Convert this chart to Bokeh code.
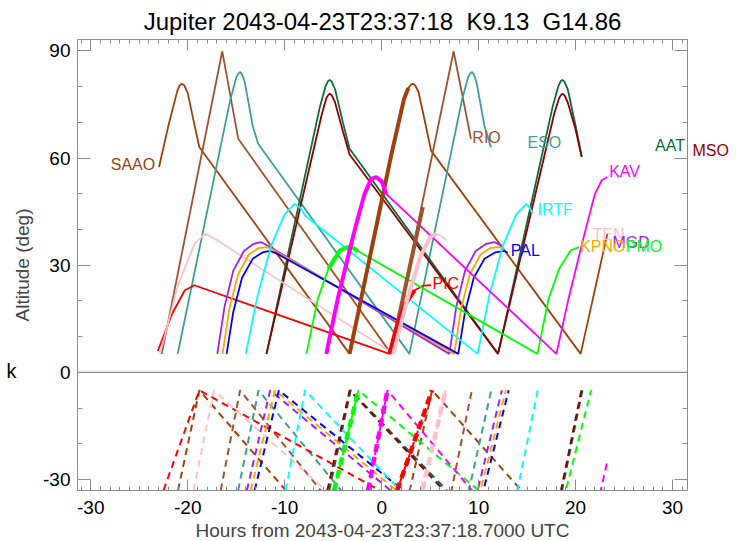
from bokeh.plotting import figure
from bokeh.models import Range1d, LinearAxis, FixedTicker, Span, LabelSet, ColumnDataSource
from bokeh.core.properties import value
from bokeh.embed import file_html
from bokeh.resources import INLINE

FONT = "Liberation Sans"
AXC = "#8c8c8c"

TITLE = "Jupiter 2043-04-23T23:37:18 \u00a0K9.13 \u00a0G14.86"
XLABEL = "Hours from 2043-04-23T23:37:18.7000 UTC"
YLABEL = "Altitude (deg)"
SIDE_MARK = "k"

X_TICKS = [-30, -20, -10, 0, 10, 20, 30]
Y_TICKS = [-30, 0, 30, 60, 90]

STATIONS = ["SAAO", "RIO", "ESO", "AAT", "MSO", "PIC", "TEN", "MGD", "KPNO", "PAL", "IRTF", "PMO", "KAV"]
COLORS = ["#A0400C", "#A0522D", "#3AA096", "#0B6B3A", "#8B0000", "#FF0000", "#FFC0CB",
          "#A020F0", "#FFA500", "#0000FF", "#00FFFF", "#00FF00", "#FF00FF"]

# label positions (hours, altitude); MSO sits outside the frame (drawn on a side axis)
LABEL_X = [-27.94, 9.35, 15.04, 28.2, 5.24, 21.74, 23.8, 20.46, 13.32, 16.07, 25.18, 23.46]
LABEL_Y = [56.8, 64.2, 62.9, 61.9, 23.4, 37.0, 34.8, 33.7, 32.5, 44.0, 33.7, 54.7]
LABEL_NAMES = ["SAAO", "RIO", "ESO", "AAT", "PIC", "TEN", "MGD", "KPNO", "PAL", "IRTF", "PMO", "KAV"]
MSO_LABEL_Y = 62

# ---- object altitude tracks (upper panel) ----
SAAO_T = [-22.96, -22.0, -21.1, -20.85, -20.62, -20.35, -20.0, -19.4, -18.81, -3.31, 1.0, 2.3, 2.75, 3.0, 3.21, 3.45, 3.8, 4.4, 5.09, 20.52, 23.27]
SAAO_A = [57.5, 69.0, 78.6, 80.3, 80.8, 80.3, 78.2, 70.5, 63.1, 5.2, 61.0, 76.5, 79.6, 80.5, 80.8, 80.4, 78.5, 71.0, 62.1, 5.2, 38.8]
SAAO_TK_T = [-3.31, 1.0, 2.3, 2.75]
SAAO_TK_A = [5.2, 61.0, 76.5, 79.6]

RIO_T = [-22.68, -16.44, -14.79, 0.98, 7.42, 9.21]
RIO_A = [5.2, 89.9, 65.4, 5.2, 89.9, 65.4]
RIO_TK_T = [1.6, 4.24]
RIO_TK_A = [13.4, 46.3]

ESO_T = [-21.04, -15.6, -15.0, -14.8, -14.62, -14.4, -14.1, -13.3, -12.74, 2.86, 8.3, 8.9, 9.1, 9.28, 9.5, 9.8, 10.6, 11.27]
ESO_A = [5.2, 76.5, 82.5, 83.6, 84.1, 83.5, 81.0, 69.0, 64.0, 5.2, 76.5, 82.5, 83.6, 84.1, 83.5, 81.0, 69.0, 63.0]

AAT_T = [-11.88, -6.4, -5.8, -5.55, -5.36, -5.15, -4.8, -4.0, -3.31, 12.0, 17.6, 18.2, 18.45, 18.64, 18.85, 19.2, 20.0, 20.63]
AAT_A = [5.2, 74.0, 80.0, 81.5, 81.9, 81.4, 79.2, 70.0, 62.6, 5.2, 74.0, 80.0, 81.5, 81.9, 81.4, 79.2, 69.0, 60.3]

MSO_T = [-11.88, -6.2, -5.7, -5.5, -5.36, -5.15, -4.8, -4.0, -3.31, 12.0, 17.8, 18.3, 18.5, 18.64, 18.85, 19.2, 20.0, 20.63]
MSO_A = [5.2, 72.0, 76.8, 77.7, 78.0, 77.6, 75.5, 67.5, 61.0, 5.2, 72.5, 76.8, 77.7, 78.0, 77.6, 75.5, 68.0, 60.3]

PIC_T = [-23.09, -21.6, -20.3, -19.32, 0.81, 1.5, 2.4, 3.4, 4.3, 5.09]
PIC_A = [6.0, 16.5, 23.0, 24.4, 5.2, 12.5, 19.0, 23.0, 24.3, 24.4]
PIC_TK_T = [0.81, 1.5, 2.4, 3.4]
PIC_TK_A = [5.2, 12.5, 19.0, 23.0]

TEN_T = [-22.85, -21.0, -19.3, -18.22, -17.2, 1.2, 2.6, 4.0, 5.0, 5.61, 6.1, 6.64]
TEN_A = [5.2, 24.5, 36.0, 38.8, 37.4, 5.2, 20.0, 32.5, 37.8, 38.8, 38.3, 37.0]
TEN_TK_T = [1.2, 2.6, 4.0, 5.0, 5.61]
TEN_TK_A = [5.2, 20.0, 32.5, 37.8, 38.8]

MGD_T = [-16.95, -16.2, -15.3, -14.2, -13.2, -12.46, -11.43, 6.98, 7.7, 8.6, 9.7, 10.8, 11.61, 12.5]
MGD_A = [5.2, 18.5, 28.5, 34.0, 36.0, 36.5, 35.0, 5.2, 18.5, 28.5, 34.0, 36.0, 36.5, 35.3]

KPNO_T = [-16.41, -15.7, -14.8, -13.7, -12.7, -11.88, -11.2, 7.49, 8.2, 9.1, 10.2, 11.2, 12.12, 12.6]
KPNO_A = [5.2, 18.0, 27.5, 33.0, 34.8, 35.1, 34.3, 5.2, 18.0, 27.5, 33.0, 34.8, 35.1, 34.5]

PAL_T = [-15.99, -15.3, -14.4, -13.3, -12.3, -11.53, -10.9, 7.9, 8.6, 9.5, 10.6, 11.7, 12.64, 13.0]
PAL_A = [5.2, 17.0, 26.5, 31.8, 33.6, 34.0, 33.4, 5.2, 17.0, 26.5, 31.8, 33.6, 34.0, 33.5]

IRTF_T = [-14.01, -12.8, -11.4, -10.0, -8.96, -8.3, -7.93, 9.89, 11.1, 12.5, 13.9, 14.93, 15.3, 15.55]
IRTF_A = [5.2, 21.5, 35.5, 44.3, 47.2, 45.8, 44.0, 5.2, 21.5, 35.5, 44.3, 47.2, 46.0, 44.5]

PMO_T = [-7.76, -6.6, -5.5, -4.3, -3.48, -2.9, -2.45, 16.07, 17.2, 18.3, 19.5, 20.35]
PMO_A = [5.2, 20.5, 29.0, 34.2, 35.1, 34.8, 34.0, 5.2, 20.5, 29.0, 34.2, 35.1]
PMO_TK_T = [-5.5, -4.3, -3.48, -2.9, -2.45]
PMO_TK_A = [29.0, 34.2, 35.1, 34.8, 34.0]

KAV_T = [-5.71, -4.5, -2.8, -1.76, -1.08, -0.56, 0.0, 0.47, 18.02, 19.3, 21.0, 22.0, 22.7, 23.27]
KAV_A = [5.2, 21.0, 39.7, 50.0, 54.2, 54.7, 53.5, 50.0, 5.2, 21.0, 39.7, 50.0, 53.8, 54.7]
KAV_TK_T = [-5.71, -4.5, -2.8, -1.76, -1.08, -0.56, 0.0, 0.47]
KAV_TK_A = [5.2, 21.0, 39.7, 50.0, 54.2, 54.7, 53.5, 50.0]

# ---- dashed tracks (lower panel) ----
SAAO_LT = [-21.0, -18.8, -9.9, -3.5, 2.9, 5.2, 14.4]
SAAO_LA = [-33, -5, -33, -45, -33, -5, -33]
RIO_LT = [-16.6, -14.6, -6.3, 0.5, 7.2, 9.3]
RIO_LA = [-33, -5, -33, -45, -33, -5]
ESO_LT = [-14.8, -12.7, -4.2, 2.4, 9.0, 11.3]
ESO_LA = [-33, -5, -33, -45, -33, -5]
AAT_LT = [-5.4, -3.2, 6.7, 12.6, 18.6, 20.7]
AAT_LA = [-33, -5, -33, -45, -33, -5]
MSO_LT = [-5.6, -3.3, 6.4, 12.4, 18.5, 20.6]
MSO_LA = [-33, -5, -33, -45, -33, -5]
PIC_LT = [-22.5, -18.8, -0.2, 0.7, 1.6, 5.2]
PIC_LA = [-33, -5, -33, -45, -33, -5]
PIC_LTK_T = [1.6, 5.2]
PIC_LTK_A = [-33, -5]
TEN_LT = [-19.4, -17.3, -5.8, -0.8, 4.2, 6.6]
TEN_LA = [-33, -5, -33, -45, -33, -5]
TEN_LTK_T = [4.2, 6.6]
TEN_LTK_A = [-33, -5]
MGD_LT = [-13.9, -11.5, 0.9, 5.4, 9.9, 12.4]
MGD_LA = [-33, -5, -33, -45, -33, -5]
KPNO_LT = [-13.5, -11.0, 1.5, 5.9, 10.2, 12.8]
KPNO_LA = [-33, -5, -33, -45, -33, -5]
PAL_LT = [-13.1, -10.6, 2.2, 6.4, 10.5, 13.1]
PAL_LA = [-33, -5, -33, -45, -33, -5]
IRTF_LT = [-9.9, -7.9, 1.9, 8.0, 14.0, 16.1]
IRTF_LA = [-33, -5, -33, -45, -33, -5]
PMO_LT = [-4.9, -2.4, 10.0, 14.5, 19.0, 21.6]
PMO_LA = [-33, -5, -33, -45, -33, -5]
PMO_LTK_T = [-4.9, -2.4]
PMO_LTK_A = [-33, -5]
KAV_LT = [-1.4, 0.6, 9.3, 16.0, 22.6, 23.3]
KAV_LA = [-33, -5, -33, -45, -33, -24.5]
KAV_LTK_T = [-1.4, 0.6]
KAV_LTK_A = [-33, -5]

UPPER = {"SAAO": (SAAO_T, SAAO_A), "RIO": (RIO_T, RIO_A), "ESO": (ESO_T, ESO_A),
         "AAT": (AAT_T, AAT_A), "MSO": (MSO_T, MSO_A), "PIC": (PIC_T, PIC_A),
         "TEN": (TEN_T, TEN_A), "MGD": (MGD_T, MGD_A), "KPNO": (KPNO_T, KPNO_A),
         "PAL": (PAL_T, PAL_A), "IRTF": (IRTF_T, IRTF_A), "PMO": (PMO_T, PMO_A),
         "KAV": (KAV_T, KAV_A)}
UPPER_THICK = {"SAAO": (SAAO_TK_T, SAAO_TK_A), "RIO": (RIO_TK_T, RIO_TK_A),
               "PIC": (PIC_TK_T, PIC_TK_A), "TEN": (TEN_TK_T, TEN_TK_A),
               "PMO": (PMO_TK_T, PMO_TK_A), "KAV": (KAV_TK_T, KAV_TK_A)}
LOWER = {"SAAO": (SAAO_LT, SAAO_LA), "RIO": (RIO_LT, RIO_LA), "ESO": (ESO_LT, ESO_LA),
         "AAT": (AAT_LT, AAT_LA), "MSO": (MSO_LT, MSO_LA), "PIC": (PIC_LT, PIC_LA),
         "TEN": (TEN_LT, TEN_LA), "MGD": (MGD_LT, MGD_LA), "KPNO": (KPNO_LT, KPNO_LA),
         "PAL": (PAL_LT, PAL_LA), "IRTF": (IRTF_LT, IRTF_LA), "PMO": (PMO_LT, PMO_LA),
         "KAV": (KAV_LT, KAV_LA)}
LOWER_THICK = {"PIC": (PIC_LTK_T, PIC_LTK_A), "TEN": (TEN_LTK_T, TEN_LTK_A),
               "PMO": (PMO_LTK_T, PMO_LTK_A), "KAV": (KAV_LTK_T, KAV_LTK_A)}

color_of = dict(zip(STATIONS, COLORS))

p = figure(frame_width=610, frame_height=451,
           x_range=Range1d(-31.37, 31.54), y_range=Range1d(-33.05, 93.2),
           output_backend="svg", toolbar_location=None,
           min_border_left=77, min_border_right=49, min_border_top=39, min_border_bottom=44,
           x_axis_label=XLABEL, y_axis_label=YLABEL)
p.xgrid.visible = False
p.ygrid.visible = False
p.outline_line_color = AXC
p.background_fill_color = "white"
p.border_fill_color = "white"

p.title.text = TITLE
p.title.align = "center"
p.title.text_font = FONT
p.title.text_font_size = "24px"
p.title.text_font_style = "normal"
p.title.text_color = "black"
p.title.standoff = 10

def hyphen_labels(ticks):
    # plain ASCII hyphen for negative tick labels, as in the original
    return {t: str(t) for t in ticks if t < 0}

def style(ax, ticker, ticks, tin, tmin, labels=True):
    ax.ticker = ticker
    ax.axis_line_color = AXC
    ax.major_tick_line_color = AXC
    ax.minor_tick_line_color = AXC
    ax.major_tick_in = tin
    ax.major_tick_out = 0
    ax.minor_tick_in = tmin
    ax.minor_tick_out = 0
    ax.major_label_text_font = FONT
    if labels:
        ax.major_label_text_font_size = "19px"
        ax.major_label_text_color = "black"
        ax.major_label_overrides = hyphen_labels(ticks)
    else:
        ax.major_label_text_font_size = "1px"
        ax.major_label_text_alpha = 0
        ax.major_label_standoff = 0

def xticker():
    return FixedTicker(ticks=X_TICKS, minor_ticks=list(range(-31, 32)))

def yticker():
    return FixedTicker(ticks=Y_TICKS, minor_ticks=list(range(-30, 91, 10)))

for ax in p.xaxis:
    style(ax, xticker(), X_TICKS, 11, 4)
    ax.major_label_standoff = 10
    ax.axis_label_standoff = 3
    ax.axis_label_text_font = FONT
    ax.axis_label_text_font_size = "19px"
    ax.axis_label_text_font_style = "normal"
for ax in p.yaxis:
    style(ax, yticker(), Y_TICKS, 13, 5)
    ax.major_label_standoff = 7
    ax.axis_label_standoff = 7
    ax.axis_label_text_font = FONT
    ax.axis_label_text_font_size = "19px"
    ax.axis_label_text_font_style = "normal"

ra = LinearAxis()
style(ra, yticker(), Y_TICKS, 13, 5, labels=False)
p.add_layout(ra, "right")
ta = LinearAxis()
style(ta, xticker(), X_TICKS, 11, 4, labels=False)
p.add_layout(ta, "above")

# outside-frame texts carried by bare side axes
def bare_axis(tick, text, font, size, color, standoff):
    ax = LinearAxis(ticker=FixedTicker(ticks=[tick], minor_ticks=[]),
                    major_label_overrides={tick: text})
    ax.axis_line_color = None
    ax.major_tick_line_color = None
    ax.minor_tick_line_color = None
    ax.major_tick_in = 0
    ax.major_tick_out = 0
    ax.major_label_text_font = font
    ax.major_label_text_font_size = size
    ax.major_label_text_color = color
    ax.major_label_standoff = standoff
    return ax

p.add_layout(bare_axis(0, SIDE_MARK, "Liberation Mono", "20px", "black", -8), "left")
p.add_layout(bare_axis(MSO_LABEL_Y, "MSO", FONT, "16px", color_of["MSO"], 5), "right")

p.add_layout(Span(location=0, dimension="width", line_color=AXC, line_width=1.3))

for s in STATIONS:
    t, a = LOWER[s]
    p.line(t, a, line_color=color_of[s], line_width=2, line_dash="7 5")
for s, (t, a) in LOWER_THICK.items():
    p.line(t, a, line_color=color_of[s], line_width=4.5, line_dash="8 5")

for s in STATIONS:
    t, a = UPPER[s]
    p.line(t, a, line_color=color_of[s], line_width=1.8)
for s, (t, a) in UPPER_THICK.items():
    p.line(t, a, line_color=color_of[s], line_width=4)

src = ColumnDataSource(dict(x=LABEL_X, y=LABEL_Y, text=LABEL_NAMES,
                            color=[color_of[n] for n in LABEL_NAMES]))
p.add_layout(LabelSet(x="x", y="y", text="text", source=src, text_color={"field": "color"},
                      text_font=value(FONT), text_font_size=value("16px"),
                      text_baseline=value("alphabetic")))

open("out.html", "w").write(file_html(p, INLINE))
